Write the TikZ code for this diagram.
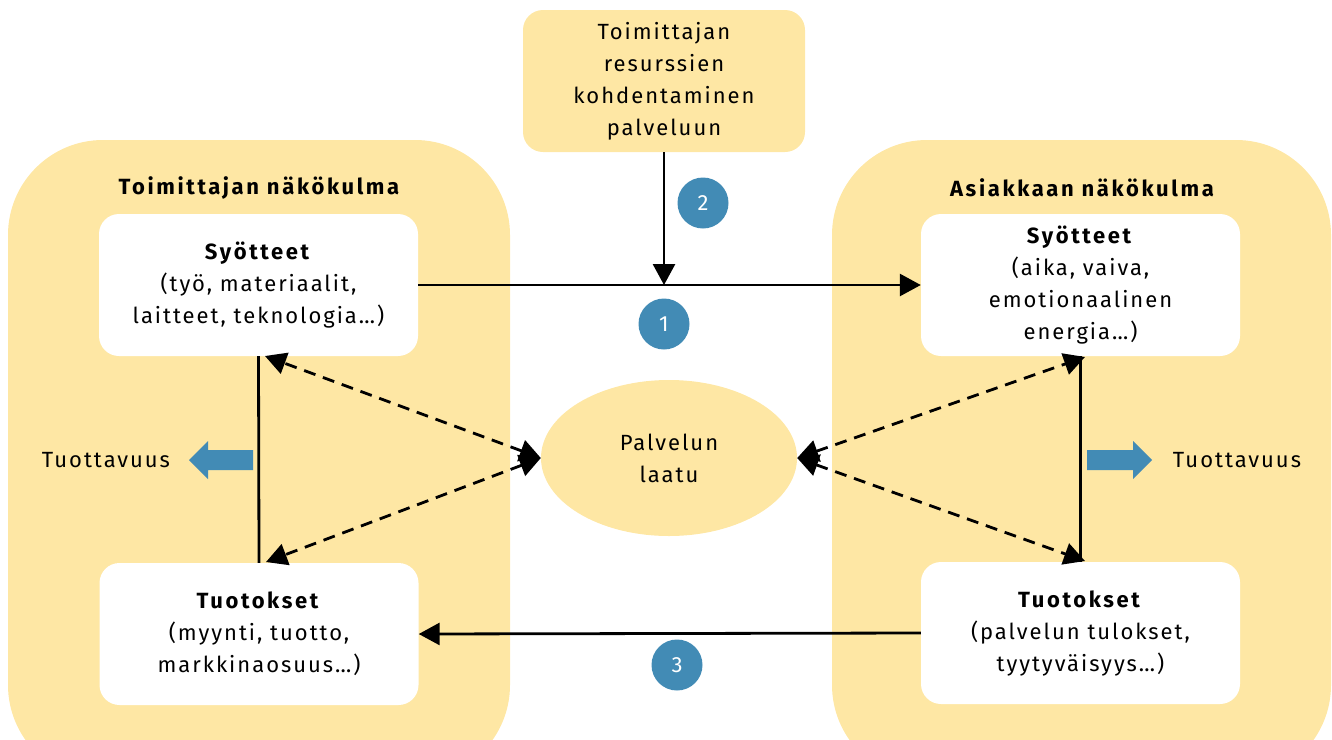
\documentclass[tikz,border=0pt]{standalone}
\usepackage{fontspec}
\setmainfont{Fira Sans}[LetterSpace=9, BoldFeatures={LetterSpace=12}]
\usetikzlibrary{arrows.meta,calc,shapes.geometric}
\definecolor{panel}{RGB}{254,231,164}
\definecolor{badge}{RGB}{66,139,181}
\tikzset{
  txt/.style={font=\fontsize{22}{32}\selectfont, align=center, inner sep=0pt},
  whitebox/.style={txt, fill=white, rounded corners=20pt, minimum width=319pt, minimum height=142pt},
  num/.style={circle, fill=badge, text=white, minimum size=51pt, inner sep=0pt, font=\fontsize{22}{24}\selectfont},
  conn/.style={line width=2.8pt, -{Triangle[length=21pt,width=22pt]}},
  plain/.style={line width=2.8pt},
  dashconn/.style={line width=2.8pt, dash pattern=on 12pt off 8pt, {Triangle[length=21pt,width=22pt]}-{Triangle[length=21pt,width=22pt]}},
  blockarrow/.style={fill=badge}
}
\begin{document}
\begin{tikzpicture}[x=1pt,y=-1pt]
\useasboundingbox (0,0) rectangle (1332,739);
\begin{scope}
  \clip (0,0) rectangle (1332,739);
  % the two perspective panels
  \fill[panel, rounded corners=95pt] (8,140) rectangle (510,780);
  \fill[panel, rounded corners=95pt] (832,140) rectangle (1331,780);
\end{scope}

% supplier resource box
\node[txt, fill=panel, rounded corners=20pt, minimum width=282pt, minimum height=142pt] (sup) at (664,81)
  {Toimittajan\\resurssien\\kohdentaminen\\palveluun};

\node[txt, font=\bfseries\fontsize{22}{32}\selectfont] (lhead) at (259,188) {Toimittajan näkökulma};
\node[txt, font=\bfseries\fontsize{22}{32}\selectfont] (rhead) at (1082,188) {Asiakkaan näkökulma};

\node[whitebox] (lin) at (258.5,285) {\textbf{Syötteet}\\(työ, materiaalit,\\laitteet, teknologia…)};
\node[whitebox] (lout) at (259,634) {\textbf{Tuotokset}\\(myynti, tuotto,\\markkinaosuus…)};
\node[whitebox] (rin) at (1080.5,285) {\textbf{Syötteet}\\(aika, vaiva,\\emotionaalinen\\energia…)};
\node[whitebox] (rout) at (1080.5,633) {\textbf{Tuotokset}\\(palvelun tulokset,\\tyytyväisyys…)};

\node[txt, ellipse, fill=panel, minimum width=256pt, minimum height=156pt] (qual) at (669,458) {Palvelun\\laatu};

\node[txt] (ltp) at (106,460) {Tuottavuus};
\node[txt] (rtp) at (1237,460) {Tuottavuus};

% productivity block arrows
\fill[blockarrow] (253,450) -- (208,450) -- (208,441) -- (189,460) -- (208,479) -- (208,470) -- (253,470) -- cycle;
\fill[blockarrow] (1087,450) -- (1133,450) -- (1133,441) -- (1152,460) -- (1133,479) -- (1133,470) -- (1087,470) -- cycle;

% flows between the perspectives
\coordinate (meet) at (sup.south |- lin.east);
\draw[conn] (lin.east) -- (rin.west);
\draw[conn] (sup.south) -- (meet);
\draw[conn] (rout.west) -- (lout.east);

% inputs to outputs
\draw[plain] (lin.south) -- (lout.north);
\draw[plain] (rin.south) -- (rout.north);

% links to service quality
\coordinate (lt) at (265,356);
\coordinate (lb) at (266,562);
\coordinate (rt) at (1085,357);
\coordinate (rb) at (1085,561);
\draw[dashconn] (qual.west) -- (lt);
\draw[dashconn] (qual.west) -- (lb);
\draw[dashconn] (qual.east) -- (rt);
\draw[dashconn] (qual.east) -- (rb);

\node[num] (n1) at (664,324) {1};
\node[num] (n2) at (703,203) {2};
\node[num] (n3) at (677,665) {3};
\end{tikzpicture}
\end{document}
